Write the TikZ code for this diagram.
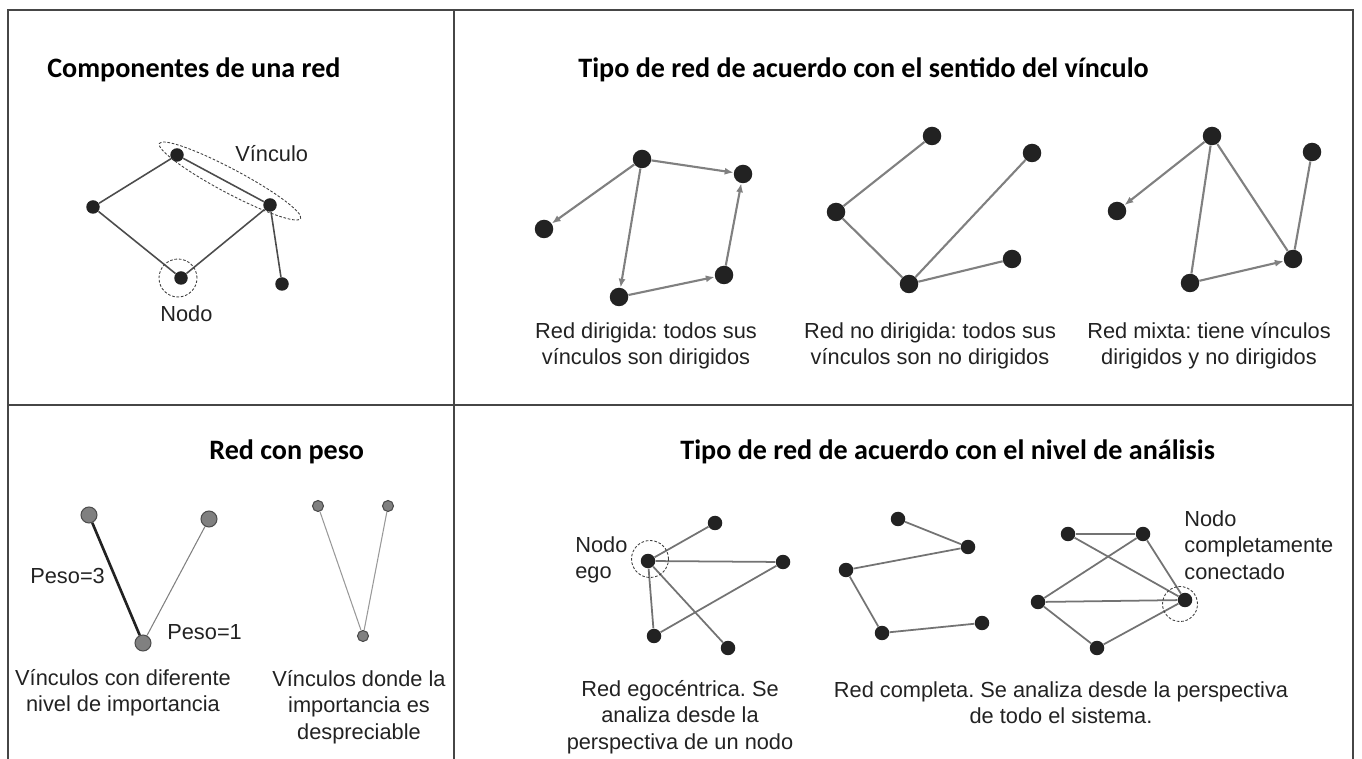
\documentclass[tikz,border=0pt]{standalone}
\usepackage{fontspec}
\setmainfont{Liberation Sans}
\newfontfamily\titlefont{Carlito}
\usetikzlibrary{positioning,arrows.meta}
\frenchspacing

\definecolor{tinta}{RGB}{34,34,34}
\definecolor{linea}{RGB}{128,128,128}
\definecolor{marcogris}{RGB}{70,70,70}

\tikzset{
  marco/.style={draw=marcogris, line width=0.9pt},
  punto/.style={circle, fill=tinta, inner sep=0pt, minimum size=#1},
  punto/.default=0.37cm,
  pesado/.style={circle, fill=gray, draw=black!70, line width=0.6pt, inner sep=0pt, minimum size=#1},
  enlace/.style={draw=linea, line width=1.2pt},
  flecha/.style={enlace, -{Latex[length=5pt,width=4pt]}},
  anillo/.style={draw=black!75, line width=0.5pt, dash pattern=on 1.5pt off 1pt},
  titulo/.style={font=\titlefont\bfseries\fontsize{16}{19}\selectfont, text=black, inner sep=0pt},
  texto/.style={font=\fontsize{12.4}{15}\selectfont, text=tinta, inner sep=0pt}
}

\begin{document}
\begin{tikzpicture}[x=0.02cm, y=-0.02cm]
\useasboundingbox (0,0) rectangle (1362,759);
\draw[marco] (8,759) -- (8,10) -- (1353,10) -- (1353,759);
\draw[marco] (454,10) -- (454,759);
\draw[marco] (8,405) -- (1353,405);

\node[titulo, anchor=base west] (tcomp) at (47,78) {Componentes de una red};
\node[titulo, anchor=base west] (tsent) at (578,78) {Tipo de red de acuerdo con el sentido del vínculo};
\node[titulo, anchor=base west] (tpeso) at (209,460) {Red con peso};
\node[titulo, anchor=base west] (tnivel) at (680,460) {Tipo de red de acuerdo con el nivel de análisis};

\node[punto=0.27cm] (c1) at (177,155) {};
\node[punto=0.27cm] (c2) at (93,207) {};
\node[punto=0.27cm] (c3) at (270,205) {};
\node[punto=0.27cm] (c4) at (181,278) {};
\node[punto=0.27cm] (c5) at (282,284) {};
\draw[enlace, draw=black!70, line width=0.9pt] (c1) -- (c2) -- (c4) -- (c3) -- (c1);
\draw[enlace, draw=black!70, line width=0.9pt] (c3) -- (c5);
\draw[anillo, rotate around={-28:(230,181)}] (230,181) ellipse (1.6cm and 0.24cm);
\draw[anillo] (178,278) circle (0.38cm);
\node[texto, anchor=base west] (lvinc) at (235,162) {Vínculo};
\node[texto, anchor=base west] (lnodo) at (160,322) {Nodo};

\node[punto] (d1) at (642,159) {};
\node[punto] (d2) at (743,174) {};
\node[punto] (d3) at (544,229) {};
\node[punto] (d4) at (619,297) {};
\node[punto] (d5) at (724,275) {};
\draw[flecha] (d1) -- (d2);
\draw[flecha] (d1) -- (d3);
\draw[flecha] (d1) -- (d4);
\draw[flecha] (d4) -- (d5);
\draw[flecha] (d5) -- (d2);
\node[texto, align=center] (capdir) at (646,346) {Red dirigida: todos sus\\vínculos son dirigidos};

\node[punto] (u1) at (932,136) {};
\node[punto] (u2) at (1032,153) {};
\node[punto] (u3) at (836,212) {};
\node[punto] (u4) at (909,284) {};
\node[punto] (u5) at (1012,259) {};
\draw[enlace] (u1) -- (u3) -- (u4) -- (u2);
\draw[enlace] (u4) -- (u5);
\node[texto, align=center] (capnodir) at (930,346) {Red no dirigida: todos sus\\vínculos son no dirigidos};

\node[punto] (m1) at (1212,136) {};
\node[punto] (m2) at (1312,152) {};
\node[punto] (m3) at (1117,211) {};
\node[punto] (m4) at (1190,283) {};
\node[punto] (m5) at (1293,259) {};
\draw[flecha] (m1) -- (m3);
\draw[enlace] (m1) -- (m4);
\draw[enlace] (m1) -- (m5);
\draw[enlace] (m2) -- (m5);
\draw[flecha] (m4) -- (m5);
\node[texto, align=center] (capmixta) at (1209,346) {Red mixta: tiene vínculos\\dirigidos y no dirigidos};

\node[pesado=0.32cm] (w1) at (89,515) {};
\node[pesado=0.32cm] (w2) at (209,519) {};
\node[pesado=0.32cm] (w3) at (143,643) {};
\node[pesado=0.22cm] (w4) at (318,506) {};
\node[pesado=0.22cm] (w5) at (388,506) {};
\node[pesado=0.22cm] (w6) at (363,636) {};
\draw[draw=tinta, line width=1.5pt] (w1) -- (w3);
\draw[draw=linea, line width=0.6pt] (w2) -- (w3);
\draw[draw=gray!80, line width=0.6pt] (w4) -- (w6);
\draw[draw=gray!80, line width=0.6pt] (w5) -- (w6);
\node[texto, anchor=base west] (lpeso3) at (30,584) {Peso=3};
\node[texto, anchor=base west] (lpeso1) at (167,640) {Peso=1};
\node[texto, align=center] (capdif) at (123,693) {Vínculos con diferente\\nivel de importancia};
\node[texto, align=center] (capdesp) at (359,707) {Vínculos donde la\\importancia es\\despreciable};

\node[punto=0.29cm] (e0) at (648,561) {};
\node[punto=0.29cm] (e1) at (715,523) {};
\node[punto=0.29cm] (e2) at (783,562) {};
\node[punto=0.29cm] (e3) at (654,636) {};
\node[punto=0.29cm] (e4) at (728,648) {};
\draw[enlace, draw=black!55, line width=1pt] (e0) -- (e1);
\draw[enlace, draw=black!55, line width=1pt] (e0) -- (e2);
\draw[enlace, draw=black!55, line width=1pt] (e0) -- (e3);
\draw[enlace, draw=black!55, line width=1pt] (e0) -- (e4);
\draw[enlace, draw=black!55, line width=1pt] (e3) -- (e2);
\draw[anillo] (650,559) circle (0.37cm);
\node[texto, align=left, anchor=west] (lego) at (575,560) {Nodo\\ego};
\node[texto, align=center] (capego) at (680,717) {Red egocéntrica. Se\\analiza desde la\\perspectiva de un nodo};

\node[punto=0.29cm] (k1) at (898,519) {};
\node[punto=0.29cm] (k2) at (968,547) {};
\node[punto=0.29cm] (k3) at (846,570) {};
\node[punto=0.29cm] (k4) at (882,633) {};
\node[punto=0.29cm] (k5) at (982,623) {};
\draw[enlace, draw=black!55, line width=1pt] (k1) -- (k2) -- (k3) -- (k4) -- (k5);

\node[punto=0.29cm] (f1) at (1068,534) {};
\node[punto=0.29cm] (f2) at (1143,534) {};
\node[punto=0.29cm] (f3) at (1038,602) {};
\node[punto=0.29cm] (f4) at (1185,600) {};
\node[punto=0.29cm] (f5) at (1097,648) {};
\draw[enlace, draw=black!55, line width=1pt] (f1) -- (f2);
\draw[enlace, draw=black!55, line width=1pt] (f1) -- (f4);
\draw[enlace, draw=black!55, line width=1pt] (f2) -- (f3);
\draw[enlace, draw=black!55, line width=1pt] (f2) -- (f4);
\draw[enlace, draw=black!55, line width=1pt] (f3) -- (f4);
\draw[enlace, draw=black!55, line width=1pt] (f3) -- (f5);
\draw[enlace, draw=black!55, line width=1pt] (f5) -- (f4);
\draw[anillo] (1180,604) circle (0.35cm);
\node[texto, align=left, anchor=west] (lcompleto) at (1184,545) {Nodo\\completamente\\conectado};
\node[texto, align=center] (capcompleta) at (1061,703) {Red completa. Se analiza desde la perspectiva\\de todo el sistema.};
\end{tikzpicture}
\end{document}
